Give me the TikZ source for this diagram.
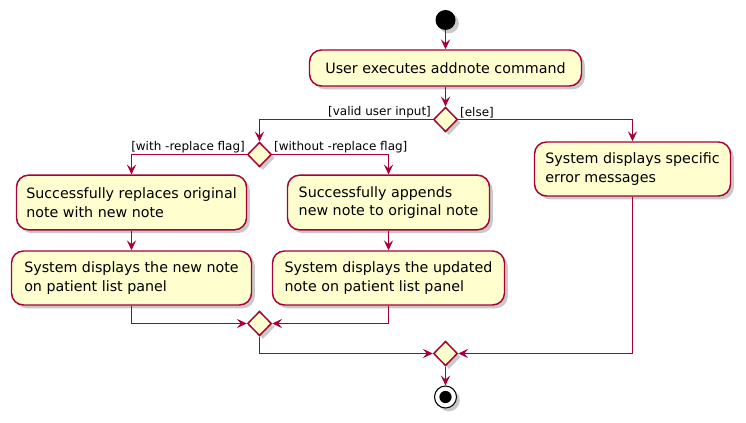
\documentclass[tikz,border=0pt]{standalone}
\usepackage{fontspec}
\setsansfont{DejaVu Sans}
\usetikzlibrary{shapes.geometric, positioning, shadows, arrows.meta}
\definecolor{umlred}{RGB}{168, 0, 54}
\definecolor{umlfill}{RGB}{254, 254, 206}

\begin{document}
\begin{tikzpicture}[
      x=0.75pt, y=-0.75pt,
      font=\fontsize{10.7pt}{13.8pt}\selectfont\sffamily,
      >={Stealth[length=7.5pt, width=7pt, inset=3pt]},
      shade/.style={drop shadow={shadow xshift=2.5pt, shadow yshift=-2.5pt,
                    opacity=0.3, fill=black!70}},
      activity/.style={rectangle, rounded corners=9pt, draw=umlred,
                       line width=1.1pt, fill=umlfill, align=left,
                       inner sep=0pt, shade},
      branch/.style={diamond, aspect=1, draw=umlred, line width=1.1pt,
                     fill=umlfill, inner sep=0pt, minimum width=18pt,
                     minimum height=18.5pt, shade},
      guard/.style={font=\fontsize{9pt}{10.5pt}\selectfont\sffamily,
                    inner sep=1pt},
      arrow/.style={->, line width=0.8pt, draw=umlred}
  ]
  \useasboundingbox (0,0) rectangle (746,423);

  \node[circle, fill=black, minimum size=15pt, inner sep=0pt, shade]
        (start) at (445.5,20) {};
  \node[activity, minimum width=204pt, minimum height=27pt]
        (cmd) at (445.5,68) {User executes addnote command};
  \node[branch] (valid) at (445.5,119.5) {};
  \node[branch] (flag)  at (259.5,154.5) {};

  \node[activity, minimum width=172.5pt, minimum height=41pt]
        (replace) at (131.5,202.5) {Successfully replaces original\\note with new note};
  \node[activity, minimum width=151.5pt, minimum height=41pt]
        (append) at (388.5,202.5) {Successfully appends\\new note to original note};
  \node[activity, minimum width=180pt, minimum height=40.5pt]
        (shownew) at (131.5,278) {System displays the new note\\on patient list panel};
  \node[activity, minimum width=174pt, minimum height=40.5pt]
        (showupd) at (388.5,278) {System displays the updated\\note on patient list panel};
  \node[activity, minimum width=147pt, minimum height=40.5pt]
        (error) at (632.5,169) {System displays specific\\error messages};

  \node[branch] (mergeflag)  at (259.5,323.5) {};
  \node[branch] (mergevalid) at (445.5,353.5) {};
  \node[circle, draw=black, line width=0.8pt, fill=white, minimum size=16.5pt,
        inner sep=0pt, shade,
        path picture={\fill[black] (path picture bounding box.center) circle (4.6pt);}]
        (stop) at (445.5,397) {};

  \draw[arrow] (start) -- (cmd);
  \draw[arrow] (cmd) -- (valid);

  % guarded branches
  \draw[arrow] (valid.west) node[guard, anchor=south east] {[valid user input]}
        -| (flag.north);
  \draw[arrow] (valid.east) node[guard, anchor=south west] {[else]}
        -| (error.north);
  \draw[arrow] (flag.west) node[guard, anchor=south east] {[with -replace flag]}
        -| (replace.north);
  \draw[arrow] (flag.east) node[guard, anchor=south west] {[without -replace flag]}
        -| (append.north);

  \draw[arrow] (replace) -- (shownew);
  \draw[arrow] (append) -- (showupd);

  % merging back
  \draw[arrow] (shownew.south) |- (mergeflag.west);
  \draw[arrow] (showupd.south) |- (mergeflag.east);
  \draw[arrow] (mergeflag.south) |- (mergevalid.west);
  \draw[arrow] (error.south) |- (mergevalid.east);
  \draw[arrow] (mergevalid) -- (stop);
\end{tikzpicture}
\end{document}
